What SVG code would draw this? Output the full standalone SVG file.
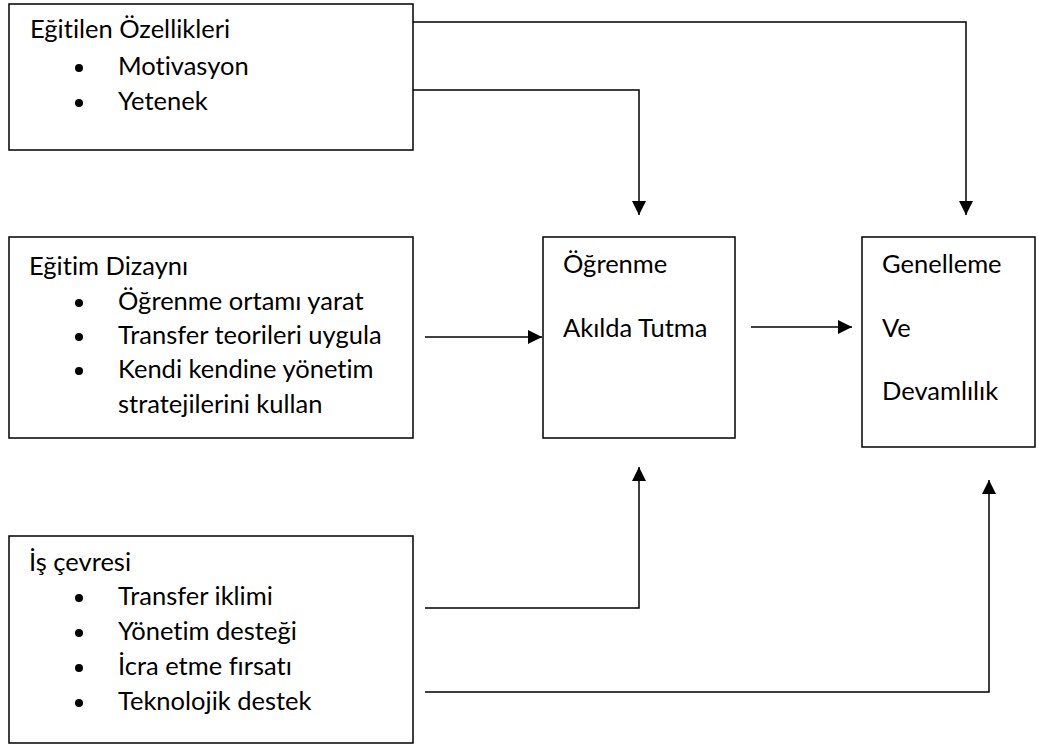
<svg xmlns="http://www.w3.org/2000/svg" width="1038" height="746" viewBox="0 0 1038 746">
<defs>
<style>
.box{fill:#fff;stroke:#000;stroke-width:1.5}
.t{font-family:Lato,"Liberation Sans",sans-serif;font-size:25.5px;fill:#000;font-variant-ligatures:none;font-feature-settings:"liga" 0,"clig" 0,"dlig" 0}
.b{fill:#000}
.c{fill:none;stroke:#000;stroke-width:1.5}
</style>
<marker id="ah" markerUnits="userSpaceOnUse" markerWidth="14" markerHeight="14" refX="14" refY="7" orient="auto" viewBox="0 0 14 14">
<path d="M0,0 L14,7 L0,14 z" fill="#000"/>
</marker>
</defs>
<rect width="1038" height="746" fill="#fff"/>
<g id="egitilen">
<rect class="box" x="9" y="4" width="404" height="146"/>
<text class="t" x="30" y="38">Eğitilen Özellikleri</text>
<circle class="b" cx="79" cy="68" r="4"/>
<text class="t" x="118" y="75">Motivasyon</text>
<circle class="b" cx="79" cy="103" r="4"/>
<text class="t" x="118" y="110">Yetenek</text>
</g>
<g id="egitim">
<rect class="box" x="9" y="237" width="404" height="201"/>
<text class="t" x="29" y="275">Eğitim Dizaynı</text>
<circle class="b" cx="79" cy="303" r="4"/>
<text class="t" x="118" y="310">Öğrenme ortamı yarat</text>
<circle class="b" cx="79" cy="337" r="4"/>
<text class="t" x="118" y="344">Transfer teorileri uygula</text>
<circle class="b" cx="79" cy="371" r="4"/>
<text class="t" x="118" y="378">Kendi kendine yönetim</text>
<text class="t" x="118" y="413">stratejilerini kullan</text>
</g>
<g id="ogrenme">
<rect class="box" x="543" y="237" width="192" height="201"/>
<text class="t" x="563" y="273">Öğrenme</text>
<text class="t" x="563" y="337">Akılda Tutma</text>
</g>
<g id="genelleme">
<rect class="box" x="862" y="237" width="173" height="210"/>
<text class="t" x="882" y="273">Genelleme</text>
<text class="t" x="882" y="337">Ve</text>
<text class="t" x="882" y="400">Devamlılık</text>
</g>
<g id="is">
<rect class="box" x="9" y="536" width="404" height="207"/>
<text class="t" x="29" y="571">İş çevresi</text>
<circle class="b" cx="79" cy="598" r="4"/>
<text class="t" x="118" y="605">Transfer iklimi</text>
<circle class="b" cx="79" cy="633" r="4"/>
<text class="t" x="118" y="640">Yönetim desteği</text>
<circle class="b" cx="79" cy="668" r="4"/>
<text class="t" x="118" y="675">İcra etme fırsatı</text>
<circle class="b" cx="79" cy="703" r="4"/>
<text class="t" x="118" y="710">Teknolojik destek</text>
</g>
<g id="connectors">
<path class="c" d="M413,22 H966 V215" marker-end="url(#ah)"/>
<path class="c" d="M413,90 H639 V215" marker-end="url(#ah)"/>
<path class="c" d="M425,337 H542" marker-end="url(#ah)"/>
<path class="c" d="M751,327 H852" marker-end="url(#ah)"/>
<path class="c" d="M425,608 H639 V467" marker-end="url(#ah)"/>
<path class="c" d="M425,692 H989 V480" marker-end="url(#ah)"/>
</g>
</svg>
